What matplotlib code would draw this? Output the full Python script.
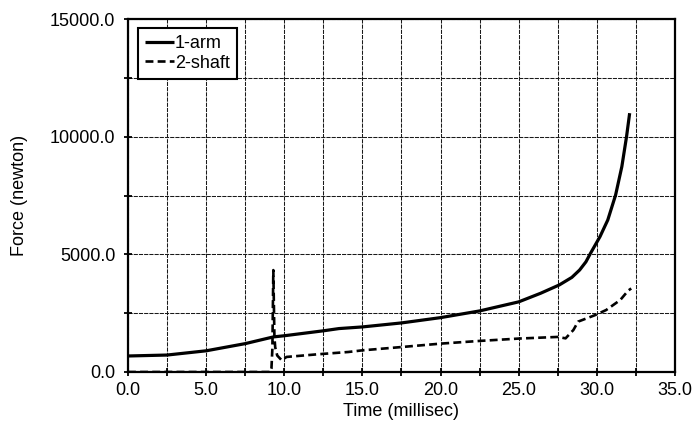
import matplotlib
matplotlib.use("Agg")
import matplotlib.pyplot as plt
from matplotlib.ticker import MultipleLocator, FuncFormatter

plt.rcParams['font.family'] = ['Liberation Sans', 'DejaVu Sans']

# Force histories (newton) against time (millisec)
arm_time = [0.0, 2.5, 5.0, 7.5, 9.3, 10.0, 12.5, 13.5, 15.0, 17.5, 20.0, 22.5,
            25.0, 26.4, 27.6, 28.4, 28.9, 29.3, 29.6, 30.2, 30.7, 31.2, 31.6,
            31.9, 32.1]
arm_force = [680, 720, 900, 1205, 1490, 1540, 1750, 1845, 1915, 2085, 2310, 2595,
             2980, 3345, 3700, 4020, 4335, 4680, 5050, 5750, 6460, 7520, 8730,
             10000, 11000]

shaft_time = [0.0, 9.1, 9.18, 9.24, 9.3, 9.37, 9.42, 9.55, 9.83, 10.15, 12.1,
              14.1, 15.0, 17.5, 20.0, 22.5, 25.0, 27.5, 28.0, 28.5, 28.8,
              29.9, 30.6, 31.5, 32.0, 32.2]
shaft_force = [0, 0, 150, 1000, 4330, 1500, 1050, 700, 500, 640, 750,
               850, 920, 1060, 1205, 1320, 1420, 1490, 1430, 1785, 2140,
               2420, 2635, 3060, 3455, 3550]

series_labels = ['1-arm', '2-shaft']
x_ticks = [0.0, 5.0, 10.0, 15.0, 20.0, 25.0, 30.0, 35.0]
y_ticks = [0.0, 5000.0, 10000.0, 15000.0]

fig = plt.figure(figsize=(6.94, 4.23), dpi=100)
ax = fig.add_axes([0.1844, 0.1206, 0.7882, 0.8344])

ax.plot(arm_time, arm_force, color='black', lw=2.3, solid_capstyle='butt',
        label=series_labels[0], zorder=3)
ax.plot(shaft_time, shaft_force, color='black', lw=1.9, dashes=(3.0, 1.6),
        label=series_labels[1], zorder=3)

ax.set_xlim(x_ticks[0], x_ticks[-1])
ax.set_ylim(y_ticks[0], y_ticks[-1])
ax.set_xticks(x_ticks)
ax.set_yticks(y_ticks)
ax.xaxis.set_minor_locator(MultipleLocator(2.5))
ax.yaxis.set_minor_locator(MultipleLocator(2500))
fmt = FuncFormatter(lambda v, p: f"{v:.1f}")
ax.xaxis.set_major_formatter(fmt)
ax.yaxis.set_major_formatter(fmt)

ax.grid(True, which='both', color='#1a1a1a', lw=0.75, linestyle=(0, (4, 1)),
        zorder=1)
ax.set_axisbelow(True)

for s in ax.spines.values():
    s.set_linewidth(1.6)
    s.set_color('black')

ax.tick_params(which='both', direction='inout', length=6, width=1.3,
               color='black', labelsize=13)
ax.tick_params(axis='x', pad=4)
ax.tick_params(axis='y', pad=6)

ax.set_xlabel('Time (millisec)', fontsize=13, labelpad=3)
ax.set_ylabel('Force (newton)', fontsize=13, labelpad=16)

leg = ax.legend(loc='upper left', bbox_to_anchor=(0.018, 0.975),
                fontsize=13, frameon=True, fancybox=False, edgecolor='black',
                framealpha=1, handlelength=1.6, handletextpad=0.05,
                labelspacing=0.15, borderpad=0.4, borderaxespad=0)
leg.get_frame().set_linewidth(1.5)

fig.savefig('out.png', dpi=100)
